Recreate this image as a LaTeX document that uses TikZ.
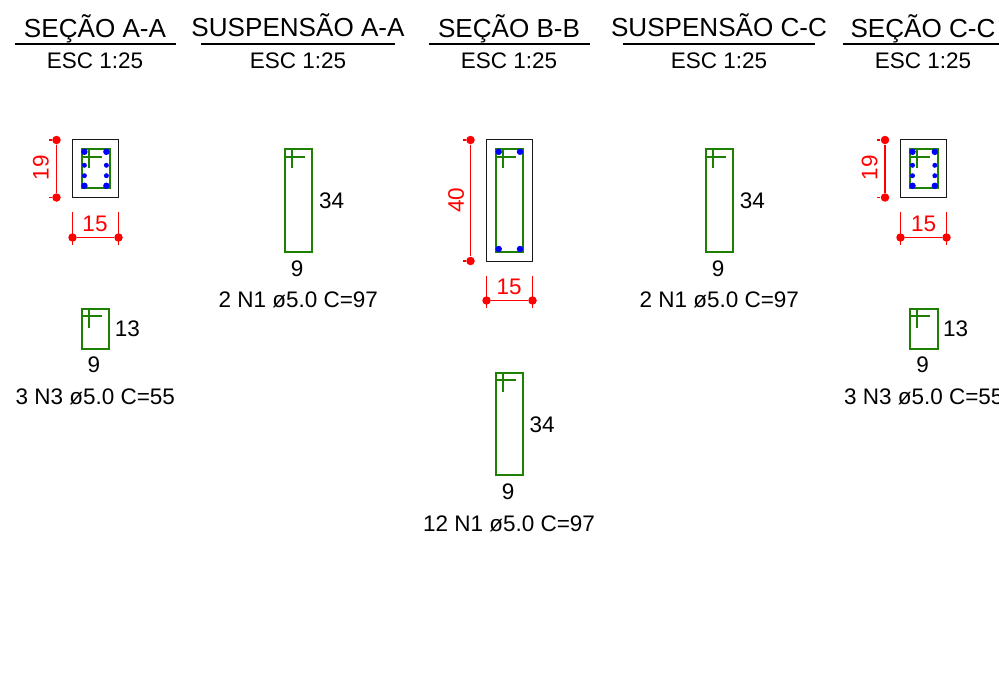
\documentclass[tikz,border=0pt]{standalone}
\usepackage{fontspec}
\setmainfont{Liberation Sans}
\usepackage{xcolor}
\definecolor{barGreen}{HTML}{1E8000}
\tikzset{
  titlelbl/.style={font=\fontsize{7.42pt}{8pt}\selectfont, inner sep=0pt, anchor=base},
  esclbl/.style={font=\fontsize{6.4pt}{7pt}\selectfont, inner sep=0pt},
  barlbl/.style={font=\fontsize{6.4pt}{7pt}\selectfont, inner sep=0pt},
  dimlbl/.style={font=\fontsize{6.4pt}{7pt}\selectfont, text=red, inner sep=0pt},
  reddot/.style={circle, fill=red, inner sep=0pt, minimum size=0.85mm},
  bluedot/.style={circle, fill=blue, inner sep=0pt, minimum size=0.5mm},
  bigdot/.style={circle, fill=blue, inner sep=0pt, minimum size=0.65mm},
  headline/.style={draw=black, line width=0.14mm},
  concrete/.style={draw=black!90, line width=0.15mm},
  stirrup/.style={draw=barGreen, line width=0.24mm},
  dimline/.style={draw=red, line width=0.17mm}
}
\begin{document}
\begin{tikzpicture}[x=0.1mm,y=-0.1mm]
  \clip (0,0) rectangle (999,698);

  % titles
  \node[titlelbl] (titleA) at (95,37.3) {SEÇÃO A-A};
  \node[esclbl] (escA) at (95,60.5) {ESC 1:25};
  \coordinate (headAl) at (15,44);
  \coordinate (headAr) at (176,44);
  \draw[headline] (headAl) -- (headAr);

  \node[titlelbl] (titleSA) at (298,36.5) {SUSPENSÃO A-A};
  \node[esclbl] (escSA) at (298,60.5) {ESC 1:25};
  \coordinate (headSAl) at (201,44);
  \coordinate (headSAr) at (395,44);
  \draw[headline] (headSAl) -- (headSAr);

  \node[titlelbl] (titleB) at (509,37.3) {SEÇÃO B-B};
  \node[esclbl] (escB) at (509,60.5) {ESC 1:25};
  \coordinate (headBl) at (429,44);
  \coordinate (headBr) at (590,44);
  \draw[headline] (headBl) -- (headBr);

  \node[titlelbl] (titleSC) at (719,36.5) {SUSPENSÃO C-C};
  \node[esclbl] (escSC) at (719,60.5) {ESC 1:25};
  \coordinate (headSCl) at (623,44);
  \coordinate (headSCr) at (815,44);
  \draw[headline] (headSCl) -- (headSCr);

  \node[titlelbl] (titleC) at (923,37.3) {SEÇÃO C-C};
  \node[esclbl] (escC) at (923,60.5) {ESC 1:25};
  \coordinate (headCl) at (843,44);
  \coordinate (headCr) at (1004,44);
  \draw[headline] (headCl) -- (headCr);

  % section A-A
  \draw[concrete] (72.5,139.5) rectangle (118.5,197.5);
  \draw[stirrup] (82,149) rectangle (110,188) (82,157) -- ++(20,0) (89,149) -- ++(0,19);
  \foreach \yy in {165.3,175.7} {
    \node[bluedot] at (84.4,\yy) {};
    \node[bluedot] at (106.4,\yy) {};
  }
  \foreach \yy in {151.8,185.8} {
    \node[bigdot] at (84.4,\yy) {};
    \node[bigdot] at (106.4,\yy) {};
  }
  \node[reddot] (vA1) at (56.5,140) {};
  \node[reddot] (vA2) at (56.5,197.5) {};
  \coordinate (vA1t) at (49,140);
  \coordinate (vA2t) at (49,197.5);
  \draw[dimline] (vA1) -- (vA2) (vA1t) -- (vA1) (vA2t) -- (vA2);
  \node[dimlbl, rotate=90] (dimA19) at (41,167.5) {19};
  \node[reddot] (hA1) at (72.5,237.5) {};
  \node[reddot] (hA2) at (118.5,237.5) {};
  \coordinate (hA1t) at (72.5,212);
  \coordinate (hA2t) at (118.5,212);
  \coordinate (hA1b) at (72.5,245);
  \coordinate (hA2b) at (118.5,245);
  \draw[dimline] (hA1) -- (hA2) (hA1t) -- (hA1b) (hA2t) -- (hA2b);
  \node[dimlbl] (dimA15) at (95,223.5) {15};

  \draw[stirrup] (82,309) rectangle (109,349) (82,316) -- ++(19.5,0) (89,309) -- ++(0,19);
  \node[barlbl] (barA13) at (127.5,329) {13};
  \node[barlbl] (barA9) at (94,365) {9};
  \node[barlbl] (barA) at (95.3,397) {3 N3 ø5.0 C=55};

  % suspension A-A
  \draw[stirrup] (285,149) rectangle (312,252) (285,157) -- ++(20,0) (292,149) -- ++(0,19);
  \node[barlbl] (barSA34) at (331.5,201) {34};
  \node[barlbl] (barSA9) at (297,269) {9};
  \node[barlbl] (barSA) at (298.3,300) {2 N1 ø5.0 C=97};

  % section B-B
  \draw[concrete] (486.5,139.5) rectangle (532.5,261.5);
  \draw[stirrup] (496,149) rectangle (523,252) (496,157) -- ++(20,0) (503,149) -- ++(0,19);
  \foreach \xx in {498.7,520} {
    \node[bigdot] at (\xx,151.8) {};
    \node[bigdot] at (\xx,249) {};
  }
  \node[reddot] (vB1) at (470.5,140) {};
  \node[reddot] (vB2) at (470.5,261) {};
  \coordinate (vB1t) at (463,140);
  \coordinate (vB2t) at (463,261);
  \draw[dimline] (vB1) -- (vB2) (vB1t) -- (vB1) (vB2t) -- (vB2);
  \node[dimlbl, rotate=90] (dimB40) at (456,200) {40};
  \node[reddot] (hB1) at (486.5,300.5) {};
  \node[reddot] (hB2) at (532.5,300.5) {};
  \coordinate (hB1t) at (486.5,276);
  \coordinate (hB2t) at (532.5,276);
  \coordinate (hB1b) at (486.5,308);
  \coordinate (hB2b) at (532.5,308);
  \draw[dimline] (hB1) -- (hB2) (hB1t) -- (hB1b) (hB2t) -- (hB2b);
  \node[dimlbl] (dimB15) at (509,287) {15};

  \draw[stirrup] (496,373) rectangle (523,475) (496,380) -- ++(20,0) (503,373) -- ++(0,19);
  \node[barlbl] (barB34) at (542,425) {34};
  \node[barlbl] (barB9) at (508,492) {9};
  \node[barlbl] (barB) at (509,524) {12 N1 ø5.0 C=97};

  % suspension C-C
  \draw[stirrup] (706,149) rectangle (733,252) (706,157) -- ++(20,0) (713,149) -- ++(0,19);
  \node[barlbl] (barSC34) at (752.3,201) {34};
  \node[barlbl] (barSC9) at (718,269) {9};
  \node[barlbl] (barSC) at (719.3,300) {2 N1 ø5.0 C=97};

  % section C-C
  \draw[concrete] (900.5,139.5) rectangle (946.5,197.5);
  \draw[stirrup] (910,149) rectangle (938,188) (910,157) -- ++(20,0) (917,149) -- ++(0,19);
  \foreach \yy in {165.3,175.7} {
    \node[bluedot] at (912.5,\yy) {};
    \node[bluedot] at (934.8,\yy) {};
  }
  \foreach \yy in {151.8,185.8} {
    \node[bigdot] at (912.5,\yy) {};
    \node[bigdot] at (934.8,\yy) {};
  }
  \node[reddot] (vC1) at (885,140) {};
  \node[reddot] (vC2) at (885,197.5) {};
  \coordinate (vC1t) at (877,140);
  \coordinate (vC2t) at (877,197.5);
  \draw[dimline] (vC1) -- (vC2) (vC1t) -- (vC1) (vC2t) -- (vC2);
  \node[dimlbl, rotate=90] (dimC19) at (869.5,167.5) {19};
  \node[reddot] (hC1) at (900.5,237.5) {};
  \node[reddot] (hC2) at (946.5,237.5) {};
  \coordinate (hC1t) at (900.5,212);
  \coordinate (hC2t) at (946.5,212);
  \coordinate (hC1b) at (900.5,245);
  \coordinate (hC2b) at (946.5,245);
  \draw[dimline] (hC1) -- (hC2) (hC1t) -- (hC1b) (hC2t) -- (hC2b);
  \node[dimlbl] (dimC15) at (923.5,223.5) {15};

  \draw[stirrup] (910,309) rectangle (938,349) (910,316) -- ++(19.5,0) (917,309) -- ++(0,19);
  \node[barlbl] (barC13) at (955.5,329) {13};
  \node[barlbl] (barC9) at (922.5,365) {9};
  \node[barlbl] (barC) at (923.8,397) {3 N3 ø5.0 C=55};
\end{tikzpicture}
\end{document}
